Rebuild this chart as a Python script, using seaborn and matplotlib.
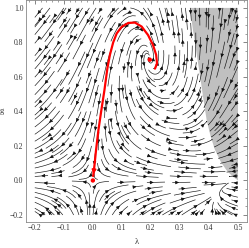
import numpy as np
import pandas as pd
import matplotlib
matplotlib.use("Agg")
import matplotlib.pyplot as plt
import seaborn as sns
from matplotlib.ticker import MultipleLocator, FuncFormatter

# --- data ---
# separatrix trajectory (lambda, g), from NGFP towards GFP
traj_lam = [0.214, 0.221, 0.218, 0.207, 0.190, 0.168, 0.145, 0.122, 0.099,
            0.082, 0.070, 0.059, 0.050, 0.040, 0.029, 0.019, 0.011, 0.005, 0.001]
traj_g = [0.648, 0.679, 0.728, 0.786, 0.843, 0.892, 0.915, 0.913, 0.890,
          0.852, 0.800, 0.730, 0.650, 0.525, 0.405, 0.290, 0.177, 0.080, 0.025]
# fixed points (Gaussian and non-Gaussian)
fp_lam = [0.0, 0.196]
fp_g = [0.0, 0.700]
# boundary of shaded (singular) region
bd_lam = [0.334, 0.345, 0.356, 0.368, 0.380, 0.392, 0.405, 0.420, 0.440, 0.460, 0.480, 0.500]
bd_g = [1.000, 0.870, 0.750, 0.620, 0.480, 0.350, 0.260, 0.180, 0.110, 0.060, 0.025, 0.000]
xticks = [-0.2, -0.1, 0.0, 0.1, 0.2, 0.3, 0.4, 0.5]
yticks = [-0.2, 0.0, 0.2, 0.4, 0.6, 0.8, 1.0]

# Einstein-Hilbert truncation, optimized cutoff (d=4): RG beta functions
def betas(lam, g):
    u = 1.0 / (1.0 - 2.0 * lam)
    B1 = (20 * u - 36 * u**2 - 28) / (12 * np.pi)
    B2 = -(10 * u - 12 * u**2) / (24 * np.pi)
    eta = g * B1 / (1.0 - g * B2)
    bg = (2 + eta) * g
    bl = -(2 - eta) * lam + g / (8 * np.pi) * (20 * u - 16 - (10.0 / 3.0) * eta * u)
    return bl, bg

sns.set_style("white")
plt.rcParams['font.family'] = ['Liberation Serif', 'DejaVu Serif']

fig = plt.figure(figsize=(2.49, 2.48), dpi=100)
ax = fig.add_axes([0.106, 0.106, 0.886, 0.892])

# shaded region
poly_x = list(bd_lam) + [0.5]
poly_y = list(bd_g) + [1.0]
ax.fill(poly_x, poly_y, color="#c0c0c0", lw=0, zorder=0)

# stream field (IR direction)
x0, x1, y0, y1 = -0.2, 0.4995, -0.2, 1.0
lam = np.linspace(x0, x1, 260)
gg = np.linspace(y0, y1, 260)
L, G = np.meshgrid(lam, gg)
BL, BG = betas(L, G)
U, V = -BL, -BG
sx, sy = x1 - x0, y1 - y0
N = np.hypot(U / sx, V / sy)
N[N == 0] = 1

# hierarchical seed grid: coarse first, then finer to fill gaps
seeds = []
for n in (6, 12, 24, 48):
    fx = (np.arange(n) + 0.5) / n
    for a in fx:
        for b in fx:
            seeds.append((x0 + a * sx, y0 + b * sy))
seeds = np.array(seeds)

ax.streamplot(L, G, U / N, V / N, density=1.5, color="#111111", linewidth=0.45,
              arrowsize=0.5, maxlength=0.2, minlength=0.03, start_points=seeds,
              integration_direction="both", zorder=2)

# red separatrix
df = pd.DataFrame({"lam": traj_lam, "g": traj_g})
sns.lineplot(data=df, x="lam", y="g", sort=False, color="red", lw=1.6, ax=ax, zorder=4)
ax.annotate("", xy=(traj_lam[-1], traj_g[-1] - 0.005), xytext=(traj_lam[-2], traj_g[-2]),
            arrowprops=dict(arrowstyle="-|>", color="red", lw=1.2, mutation_scale=6), zorder=5)
sns.scatterplot(x=fp_lam, y=fp_g, color="red", s=10, edgecolor="none", ax=ax, zorder=6)

ax.set_xlim(-0.229, 0.531)
ax.set_ylim(-0.239, 1.043)
ax.set_xticks(xticks)
ax.set_yticks(yticks)
ax.xaxis.set_minor_locator(MultipleLocator(0.02))
ax.yaxis.set_minor_locator(MultipleLocator(0.05))
fmt = FuncFormatter(lambda v, p: ("\u2212" if v < -1e-9 else "") + f"{abs(v):.1f}")
ax.xaxis.set_major_formatter(fmt)
ax.yaxis.set_major_formatter(fmt)
ax.tick_params(which="both", direction="in", top=True, right=True, colors="#555555",
               labelcolor="#333333", labelsize=5.5, pad=2)
ax.tick_params(which="major", length=3, width=0.5)
ax.tick_params(which="minor", length=1.6, width=0.4)
for s in ax.spines.values():
    s.set_color("#888888")
    s.set_linewidth(0.6)
ax.set_xlabel("λ", fontsize=6, color="#333333", labelpad=4)
ax.set_ylabel("g", fontsize=6, color="#333333", rotation=0, labelpad=6, va="center")

fig.savefig("out.png", dpi=100)
